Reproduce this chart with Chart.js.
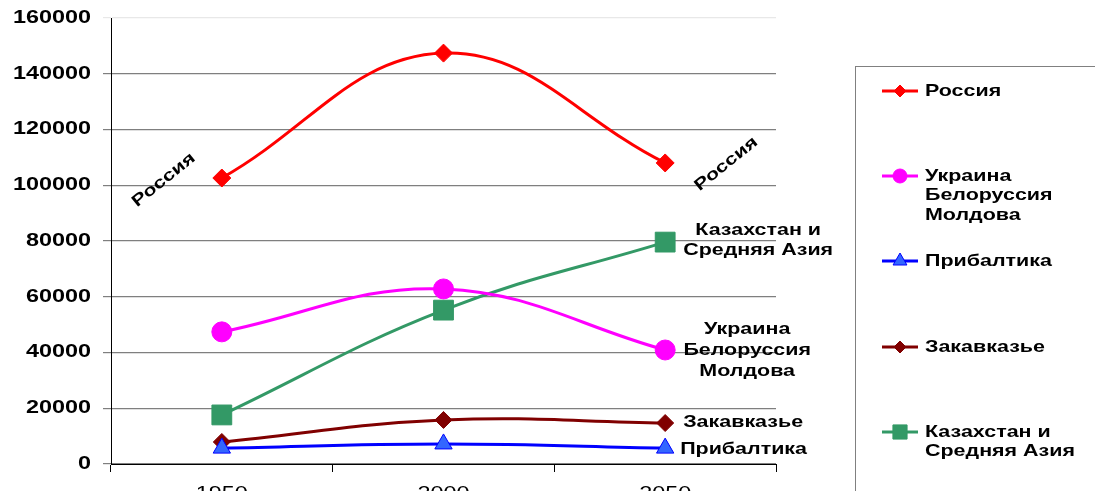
<!DOCTYPE html>
<html>
<head>
<meta charset="utf-8">
<script src="https://cdn.jsdelivr.net/npm/chart.js@4/dist/chart.umd.min.js"></script>
<style>
  html, body { margin: 0; padding: 0; background: #fff; overflow: hidden; }
  #wrap { width: 1095px; height: 506px; position: relative; }
</style>
</head>
<body>
<div id="wrap"><canvas id="myChart"></canvas></div>
<script>
// years and population (thousands)
const years = ['1950', '2000', '2050'];
const russia = [102600, 147400, 108000];
const ukraine = [47400, 62800, 40900];
const baltic = [5700, 7200, 5700];
const transcaucasia = [7900, 15800, 14700];
const kazakh = [17600, 55200, 79600];
const yTicks = [0, 20000, 40000, 60000, 80000, 100000, 120000, 140000, 160000];

const FONT = "'Liberation Sans', Arial, sans-serif";
const SX = 1.3; // the original text is drawn wide

// text stretched horizontally like the original
function wideText(c, txt, x, y, align, angle) {
  c.save();
  c.translate(x, y);
  if (angle) c.rotate(angle);
  c.scale(SX, 1);
  c.textAlign = align;
  c.fillText(txt, 0, 0);
  c.restore();
}

// axis numbers + series labels drawn next to points
const labelsPlugin = {
  id: 'pointLabels',
  afterDatasetsDraw(chart) {
    const c = chart.ctx;
    const x = chart.scales.x, y = chart.scales.y;
    c.save();
    c.fillStyle = '#000';
    c.textBaseline = 'middle';

    c.font = 'bold 18px ' + FONT;
    yTicks.forEach(v => wideText(c, String(v), 91, y.getPixelForValue(v), 'right'));
    c.font = '18px ' + FONT;
    years.forEach((yr, i) => wideText(c, yr, x.getPixelForValue(i), y.bottom + 30, 'center'));

    c.font = 'bold 16.5px ' + FONT;
    const ang = -39 * Math.PI / 180;
    wideText(c, 'Россия', x.getPixelForValue(0) - 58, y.getPixelForValue(russia[0]) + 2, 'center', ang);
    wideText(c, 'Россия', x.getPixelForValue(2) + 61, y.getPixelForValue(russia[2]) + 1, 'center', ang);

    let px = x.getPixelForValue(2);
    let py = y.getPixelForValue(kazakh[2]);
    wideText(c, 'Казахстан и', px + 93, py - 12, 'center');
    wideText(c, 'Средняя Азия', px + 93, py + 8, 'center');

    py = y.getPixelForValue(ukraine[2]);
    wideText(c, 'Украина', px + 82, py - 21, 'center');
    wideText(c, 'Белоруссия', px + 82, py, 'center');
    wideText(c, 'Молдова', px + 82, py + 21, 'center');

    wideText(c, 'Закавказье', px + 18, y.getPixelForValue(transcaucasia[2]) - 1, 'left');
    wideText(c, 'Прибалтика', px + 15, y.getPixelForValue(baltic[2]) + 1, 'left');
    c.restore();
  }
};

// boxed legend on the right
const legendPlugin = {
  id: 'boxLegend',
  afterDraw(chart) {
    const c = chart.ctx;
    c.save();
    c.strokeStyle = '#808080';
    c.lineWidth = 1;
    c.strokeRect(855.5, 66.5, 300, 500);
    const rows = [
      { i: 0, y: 91, lines: ['Россия'] },
      { i: 1, y: 176, lines: ['Украина', 'Белоруссия', 'Молдова'] },
      { i: 2, y: 261, lines: ['Прибалтика'] },
      { i: 3, y: 347, lines: ['Закавказье'] },
      { i: 4, y: 432, lines: ['Казахстан и', 'Средняя Азия'] }
    ];
    c.font = 'bold 16.5px ' + FONT;
    c.textBaseline = 'middle';
    rows.forEach(r => {
      const ds = chart.data.datasets[r.i];
      c.strokeStyle = ds.borderColor;
      c.lineWidth = 3;
      c.beginPath();
      c.moveTo(882, r.y);
      c.lineTo(918, r.y);
      c.stroke();
      c.fillStyle = ds.pointBackgroundColor;
      c.strokeStyle = ds.pointBorderColor;
      c.lineWidth = 1;
      const style = { pointStyle: ds.pointStyle, radius: ds.legendRadius, rotation: 0, borderWidth: 1 };
      Chart.helpers.drawPoint(c, style, 900, r.y);
      c.fillStyle = '#000';
      r.lines.forEach((t, k) => wideText(c, t, 925, r.y + k * 19.5, 'left'));
    });
    c.restore();
  }
};

window.onload = function(){
  const ctx = document.getElementById('myChart');
  const config = {
    type: 'line',
    data: {
      labels: years,
      datasets: [
        { label: 'Россия', data: russia, borderColor: '#ff0000', pointBackgroundColor: '#ff0000',
          pointBorderColor: '#ff0000', pointStyle: 'rectRot', pointRadius: 9, legendRadius: 6 },
        { label: 'Украина Белоруссия Молдова', data: ukraine, borderColor: '#ff00ff', pointBackgroundColor: '#ff00ff',
          pointBorderColor: '#ff00ff', pointStyle: 'circle', pointRadius: 10, legendRadius: 7 },
        { label: 'Прибалтика', data: baltic, borderColor: '#0000ff', pointBackgroundColor: '#3366ff',
          pointBorderColor: '#0000ff', pointStyle: 'triangle', pointRadius: 10, legendRadius: 8 },
        { label: 'Закавказье', data: transcaucasia, borderColor: '#800000', pointBackgroundColor: '#800000',
          pointBorderColor: '#800000', pointStyle: 'rectRot', pointRadius: 8.5, legendRadius: 6 },
        { label: 'Казахстан и Средняя Азия', data: kazakh, borderColor: '#339966', pointBackgroundColor: '#339966',
          pointBorderColor: '#339966', pointStyle: 'rect', pointRadius: 14, legendRadius: 10 }
      ]
    },
    options: {
      responsive: true,
      maintainAspectRatio: false,
      animation: false,
      layout: { padding: { top: 18, right: 319, left: 0, bottom: 0 } },
      elements: {
        line: { borderWidth: 3, tension: 0.4, cubicInterpolationMode: 'default' },
        point: { borderWidth: 1 }
      },
      plugins: { legend: { display: false }, tooltip: { enabled: false } },
      scales: {
        x: {
          offset: true,
          grid: { drawOnChartArea: false, color: '#000', tickLength: 8, offset: true },
          border: { color: '#000', width: 1 },
          ticks: { display: false },
          afterFit(s) { s.height = 42; }
        },
        y: {
          min: 0, max: 160000,
          afterBuildTicks(s) { s.ticks = yTicks.map(v => ({ value: v })); },
          grid: { color: (g) => g.tick && g.tick.value === 160000 ? '#e8e8e8' : '#7f7f7f', lineWidth: 1.2, tickLength: 8 },
          border: { color: '#000', width: 1 },
          ticks: { display: false },
          afterFit(s) { s.width = 111; }
        }
      }
    },
    plugins: [labelsPlugin, legendPlugin]
  };
  new Chart(ctx, config);
};
</script>
</body>
</html>
